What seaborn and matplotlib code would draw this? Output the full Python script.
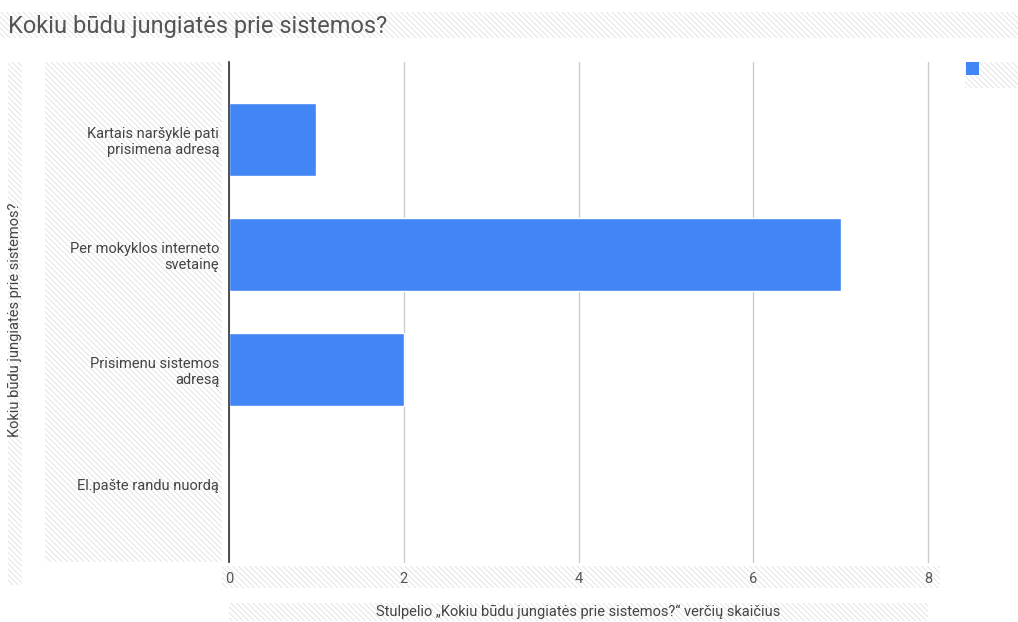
import matplotlib
matplotlib.use("Agg")
import matplotlib.pyplot as plt
import seaborn as sns
import pandas as pd
from matplotlib.patches import Rectangle

categories = [
    "Kartais naršyklė pati\nprisimena adresą",
    "Per mokyklos interneto\nsvetainę",
    "Prisimenu sistemos\nadresą",
    "El.pašte randu nuordą",
]
counts = [1, 7, 2, 0]
x_ticks = [0, 2, 4, 6, 8]

title = "Kokiu būdu jungiatės prie sistemos?"
ylabel = "Kokiu būdu jungiatės prie sistemos?"
xlabel = "Stulpelio „Kokiu būdu jungiatės prie sistemos?\u201c verčių skaičius"

sns.set_theme(style="white")
plt.rcParams["font.family"] = ["Roboto", "DejaVu Sans"]
plt.rcParams["hatch.color"] = "#e4e4e4"
plt.rcParams["hatch.linewidth"] = 0.7

W, H = 1018, 622
fig = plt.figure(figsize=(W / 100, H / 100), dpi=100)
fig.patch.set_facecolor("white")

def px_rect(x0, y0, x1, y1):
    r = Rectangle((x0 / W, 1 - y1 / H), (x1 - x0) / W, (y1 - y0) / H,
                  transform=fig.transFigure, facecolor="white",
                  edgecolor="#e4e4e4", hatch="\\\\\\\\\\\\", linewidth=0, zorder=0)
    fig.add_artist(r)

# hatched editor bands
px_rect(0, 12, 1018, 38)      # title band
px_rect(8, 62, 22, 585)       # y label band
px_rect(45, 62, 222, 562)     # tick labels band
px_rect(965, 62, 1018, 88)    # legend band
px_rect(222, 566, 940, 588)   # x tick labels band
px_rect(229, 603, 928, 621)   # x label band

ax = fig.add_axes([229 / W, 1 - 562 / H, (928 - 229) / W, (562 - 62) / H])
ax.set_facecolor("none")

df = pd.DataFrame({"cat": categories, "count": counts})
sns.barplot(data=df, y="cat", x="count", orient="h", color="#4285f4",
            saturation=1, width=0.635, ax=ax, zorder=3)

ax.set_xlim(0, 8)
ax.set_ylim(3.67, -0.67)
ax.set_xticks(x_ticks)
ax.set_xticklabels([str(t) for t in x_ticks], color="#555555", fontsize=10.5)
ax.tick_params(axis="x", length=0, pad=7)
ax.tick_params(axis="y", length=0, pad=7)
for lab in ax.get_yticklabels():
    lab.set_color("#444444")
    lab.set_fontsize(10.5)
    lab.set_multialignment("right")
ax.grid(axis="x", color="#cccccc", linewidth=1, zorder=0)
for gl in ax.get_xgridlines():
    gl.set_clip_on(False)
ax.set_axisbelow(True)
for s in ["top", "right", "bottom"]:
    ax.spines[s].set_visible(False)
ax.spines["left"].set_color("#333333")
ax.spines["left"].set_linewidth(1.2)
ax.spines["left"].set_zorder(5)
ax.set_xlabel("")
ax.set_ylabel("")

fig.text(8 / W, 1 - 26 / H, title, fontsize=17, color="#555555",
         ha="left", va="center")
fig.text(15 / W, 1 - 320 / H, ylabel, fontsize=10.5, color="#444444",
         rotation=90, ha="center", va="center")
fig.text(578 / W, 1 - 612 / H, xlabel, fontsize=10.5, color="#444444",
         ha="center", va="center")

fig.add_artist(Rectangle((966 / W, 1 - 75 / H), 13 / W, 13 / H,
                         transform=fig.transFigure, facecolor="#4285f4",
                         edgecolor="none", zorder=3))

fig.savefig("out.png", dpi=100)
